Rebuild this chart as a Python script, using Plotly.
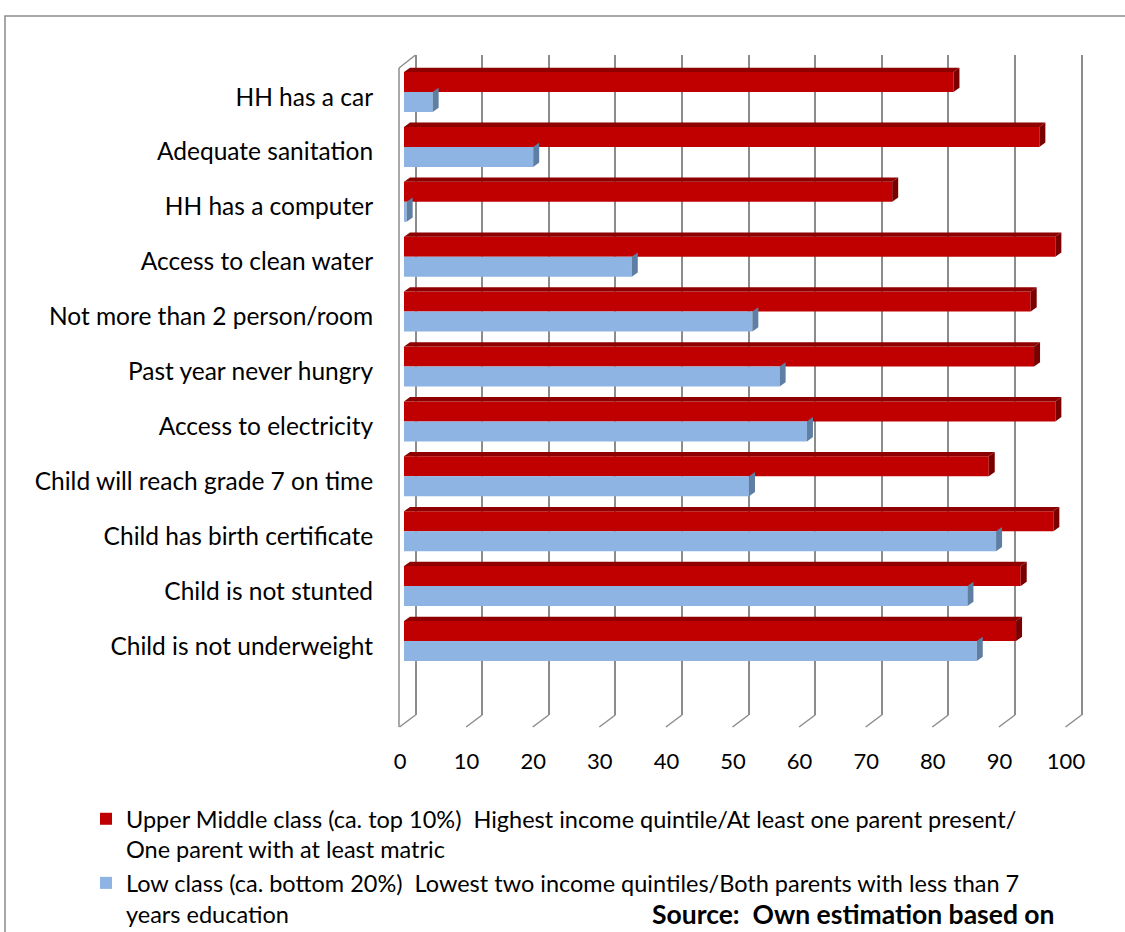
import plotly.graph_objects as go

categories = ["HH has a car", "Adequate sanitation", "HH has a computer", "Access to clean water",
              "Not more than 2 person/room", "Past year never hungry", "Access to electricity",
              "Child will reach grade 7 on time", "Child has birth certificate",
              "Child is not stunted", "Child is not underweight"]
upper_middle = [82.5, 95.4, 73.3, 97.8, 94.1, 94.6, 97.8, 87.8, 97.5, 92.6, 91.9]
low_class = [4.3, 19.4, 0.4, 34.2, 52.3, 56.4, 60.5, 51.8, 88.9, 84.6, 86.0]
series_names = ["Upper Middle class (ca. top 10%)  Highest income quintile/At least one parent present/<br>One parent with at least matric",
                "Low class (ca. bottom 20%)  Lowest two income quintiles/Both parents with less than 7<br>years education"]
x_ticks = [0, 10, 20, 30, 40, 50, 60, 70, 80, 90, 100]

FONT = "Lato"
W, H = 1125, 932
L, T = 404, 55
PW, PH = 680, 660
R = W - L - PW
B = H - T - PH
UNIT = 6.66                      # px per value unit
X1_RANGE = [0, PW / UNIT]        # bar axis (front face)
DEPTH = 11.5 / UNIT              # depth offset of back wall
X2_RANGE = [-DEPTH, PW / UNIT - DEPTH]
BARGAP = 0.271
BW = (1 - BARGAP) / 2            # width of a single bar in category units
TOPH = 4.3 / 54.9                # 3D top face height in category units
SIDE = 6 / UNIT                  # 3D side face depth in value units

def px(xp):
    return (xp - L) / PW

def py(yp):
    return (T + PH - yp) / PH

def x2_paper(v):
    return (v - X2_RANGE[0]) / (X2_RANGE[1] - X2_RANGE[0])

fig = go.Figure()
fig.add_trace(go.Bar(y=categories, x=upper_middle, orientation="h", name=series_names[0],
                     marker=dict(color="#C00000", line=dict(width=0))))
fig.add_trace(go.Bar(y=categories, x=low_class, orientation="h", name=series_names[1],
                     marker=dict(color="#8DB4E2", line=dict(width=0))))
# helper trace so the back-wall grid axis is drawn
fig.add_trace(go.Scatter(x=[x_ticks[0], x_ticks[-1]], y=[categories[0], categories[0]], xaxis="x2",
                         mode="none", showlegend=False, hoverinfo="skip"))

shapes = []
# 3D faces of bars, computed from the data
for i, (vr, vb) in enumerate(zip(upper_middle, low_class)):
    yt = i - BW
    shapes.append(dict(type="path", xref="x", yref="y", layer="above", line=dict(width=0),
                       fillcolor="#8E0000",
                       path=f"M 0,{yt} L {vr},{yt} L {vr + SIDE},{yt - TOPH} L {SIDE},{yt - TOPH} Z"))
    shapes.append(dict(type="path", xref="x", yref="y", layer="above", line=dict(width=0),
                       fillcolor="#7A0000",
                       path=f"M {vr},{yt} L {vr + SIDE},{yt - TOPH} L {vr + SIDE},{i - TOPH} L {vr},{i} Z"))
    shapes.append(dict(type="path", xref="x", yref="y", layer="above", line=dict(width=0),
                       fillcolor="#5E7EA3",
                       path=f"M {vb},{i} L {vb + SIDE},{i - TOPH} L {vb + SIDE},{i + BW - TOPH} L {vb},{i + BW} Z"))
# floor diagonals from each back-wall gridline
for v in x_ticks:
    shapes.append(dict(type="line", xref="paper", yref="paper", x0=x2_paper(v), x1=x2_paper(v) - 16 / PW,
                       y0=0, y1=py(727), line=dict(color="#8C8C8C", width=1.5)))
# left wall front edge and top diagonal
shapes.append(dict(type="line", xref="paper", yref="paper", x0=px(399), x1=px(399), y0=py(727), y1=py(68),
                   line=dict(color="#8C8C8C", width=1.5)))
shapes.append(dict(type="line", xref="paper", yref="paper", x0=px(399), x1=x2_paper(0), y0=py(68), y1=1,
                   line=dict(color="#8C8C8C", width=1.5)))
# outer frame
shapes.append(dict(type="rect", xref="paper", yref="paper", x0=px(5), x1=px(1140),
                   y0=py(960), y1=py(16), line=dict(color="#8C8C8C", width=1.5)))

fig.update_layout(
    width=W, height=H,
    margin=dict(l=L, r=R, t=T, b=B, autoexpand=False),
    paper_bgcolor="white", plot_bgcolor="white",
    barmode="group", bargap=BARGAP, bargroupgap=0,
    font=dict(family=FONT, size=24, color="#000000"),
    shapes=shapes,
    showlegend=True,
    legend=dict(xref="container", yref="container", x=86 / W, y=1 - 797 / H,
                xanchor="left", yanchor="top", valign="top",
                font=dict(family=FONT, size=23.5), tracegroupgap=0,
                bgcolor="rgba(0,0,0,0)"),
    annotations=[dict(text="<b>Source:  Own estimation based on</b>", xref="paper", yref="paper",
                      x=px(1057), y=py(914), xanchor="right", yanchor="middle", showarrow=False,
                      font=dict(family=FONT, size=26.5))],
    xaxis=dict(range=X1_RANGE, tickvals=x_ticks, showgrid=False, zeroline=False, showline=False,
               ticks="outside", ticklen=27, tickcolor="rgba(0,0,0,0)", ticklabelshift=-4,
               tickfont=dict(size=22)),
    xaxis2=dict(range=X2_RANGE, overlaying="x", side="bottom", tickvals=x_ticks, showgrid=True,
                gridcolor="#8C8C8C", gridwidth=1.5, zeroline=False, showline=False,
                showticklabels=False, ticks=""),
    yaxis=dict(type="category", categoryorder="array", categoryarray=categories,
               range=[11.348, -0.674], autorange=False, showgrid=False, zeroline=False, showline=False,
               ticks="outside", ticklen=25, tickcolor="rgba(0,0,0,0)", ticklabelshift=-5,
               tickfont=dict(size=24.5)),
)

fig.write_html("out.html")
